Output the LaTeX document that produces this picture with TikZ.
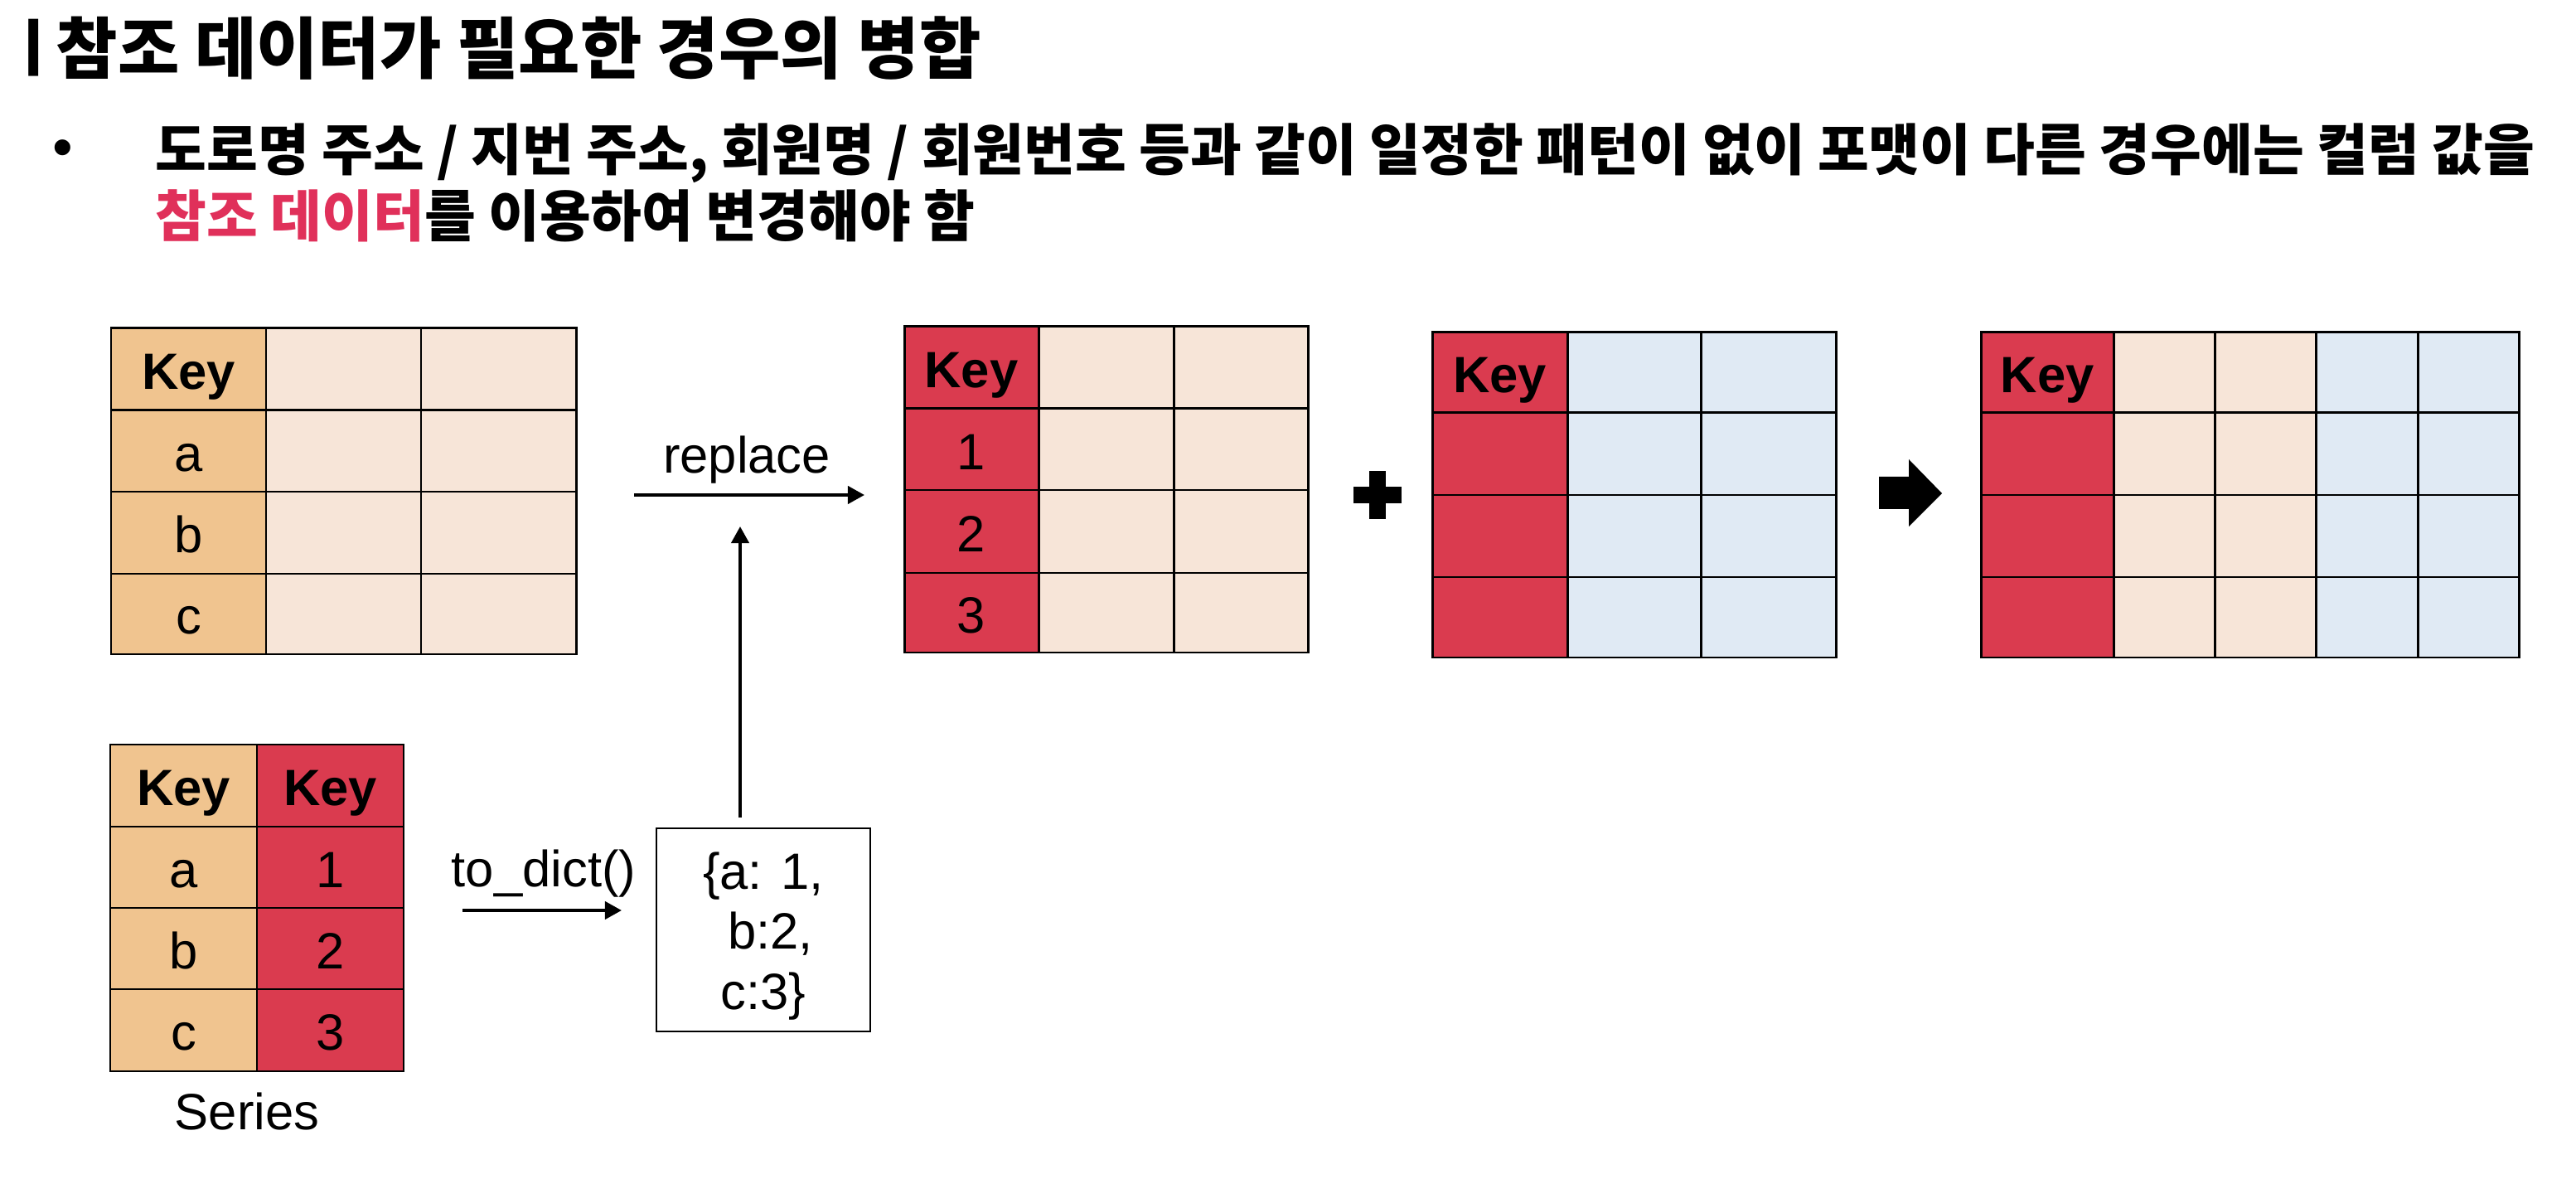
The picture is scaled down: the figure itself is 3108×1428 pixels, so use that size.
\documentclass[tikz,border=0pt]{standalone}
\usepackage{fontspec}
\setmainfont{Liberation Sans}
\newfontfamily\kr{Noto Sans CJK KR}
\usetikzlibrary{arrows.meta}
\definecolor{ktan}{HTML}{F0C48F}
\definecolor{kpeach}{HTML}{F7E5D8}
\definecolor{kred}{HTML}{DA3B4F}
\definecolor{kblue}{HTML}{E0EAF4}
\definecolor{kpink}{HTML}{E0305A}
\tikzset{
  cellbox/.style={draw=black, line width=0.85pt, inner sep=0pt, outer sep=0pt,
    text height=0.48cm, text depth=0pt, font=\fontsize{17.5}{21}\selectfont},
  arr/.style={line width=1.14pt, -{Triangle[length=0.2cm,width=0.21cm]}},
  lbl/.style={anchor=base, inner sep=0pt, font=\fontsize{17.5}{21}\selectfont},
  krtitle/.style={anchor=base west, inner sep=0pt, font=\kr\bfseries\fontsize{23}{28}\selectfont},
  krbody/.style={anchor=base west, inner sep=0pt, font=\kr\bfseries\fontsize{19.1}{23}\selectfont},
}
\newcommand\tcell[7]{\node[cellbox,fill=#6,minimum width={(#3-#2)*0.01cm},minimum height={(#5-#4)*0.01cm}] (#1) at ({(#2+#3)/2},{(#4+#5)/2}) {#7};}
\begin{document}
\begin{tikzpicture}[x=0.01cm,y=-0.01cm]
\useasboundingbox (0,0) rectangle (3108,1428);
% titles
\node[anchor=base, inner sep=0pt, font=\kr\bfseries\fontsize{21}{26}\selectfont] (bar) at (40,86) {ㅣ};
\node[krtitle] (title) at (67,89) {참조 데이터가 필요한 경우의 병합};
\node[inner sep=0pt, font=\fontsize{20}{22}\selectfont] (bul) at (76,185) {•};
\node[krbody] (line1) at (187,206) {도로명 주소 / 지번 주소, 회원명 / 회원번호 등과 같이 일정한 패턴이 없이 포맷이 다른 경우에는 컬럼 값을};
\node[krbody] (line2) at (187,286) {\textcolor{kpink}{참조 데이터}를 이용하여 변경해야 함};
% table A
\foreach \ya/\yb/\t [count=\i from 0] in {396/495/{\bfseries Key},495/593/a,593/692/b,692/789/c}{
  \tcell{A-\i-0}{134}{321}{\ya}{\yb}{ktan}{\t}
  \tcell{A-\i-1}{321}{508}{\ya}{\yb}{kpeach}{}
  \tcell{A-\i-2}{508}{695}{\ya}{\yb}{kpeach}{}
}
% table B
\foreach \ya/\yb/\t [count=\i from 0] in {394/493/{\bfseries Key},493/591/1,591/691/2,691/787/3}{
  \tcell{B-\i-0}{1091}{1253}{\ya}{\yb}{kred}{\t}
  \tcell{B-\i-1}{1253}{1416}{\ya}{\yb}{kpeach}{}
  \tcell{B-\i-2}{1416}{1578}{\ya}{\yb}{kpeach}{}
}
% table C
\foreach \ya/\yb/\t [count=\i from 0] in {401/498/{\bfseries Key},498/597/{},597/696/{},696/793/{}}{
  \tcell{C-\i-0}{1728}{1891}{\ya}{\yb}{kred}{\t}
  \tcell{C-\i-1}{1891}{2052}{\ya}{\yb}{kblue}{}
  \tcell{C-\i-2}{2052}{2215}{\ya}{\yb}{kblue}{}
}
% table D (result)
\foreach \ya/\yb/\t [count=\i from 0] in {401/498/{\bfseries Key},498/597/{},597/696/{},696/793/{}}{
  \tcell{D-\i-0}{2390}{2550}{\ya}{\yb}{kred}{\t}
  \tcell{D-\i-1}{2550}{2672}{\ya}{\yb}{kpeach}{}
  \tcell{D-\i-2}{2672}{2794}{\ya}{\yb}{kpeach}{}
  \tcell{D-\i-3}{2794}{2917}{\ya}{\yb}{kblue}{}
  \tcell{D-\i-4}{2917}{3039}{\ya}{\yb}{kblue}{}
}
% series
\foreach \ya/\yb/\s/\t [count=\i from 0] in {898/997/{\bfseries Key}/{\bfseries Key},997/1095/a/1,1095/1193/b/2,1193/1292/c/3}{
  \tcell{S-\i-0}{133}{310}{\ya}{\yb}{ktan}{\s}
  \tcell{S-\i-1}{310}{487}{\ya}{\yb}{kred}{\t}
}
\node[lbl] (series) at (298,1362) {Series};
% dict box
\node[draw, line width=0.57pt, minimum width=2.58cm, minimum height=2.45cm, inner sep=0pt, outer sep=0pt,
  align=center, font=\fontsize{17.5}{20.6}\selectfont, text height=1.91cm, text depth=0cm]
  (dict) at (921,1121.5) {\{a: 1,\\~b:2,\\c:3\}};
% arrows
\coordinate (rs) at (765,597);
\coordinate (re) at (1043,597);
\draw[arr] (rs) -- (re);
\node[lbl] (replace) at (901,571) {replace};
\coordinate (vtip) at (893,635);
\draw[arr, shorten <=0.13cm] (vtip |- dict.north) -- (vtip);
\coordinate (ts) at (558,1098);
\coordinate (te) at (750,1098);
\draw[arr] (ts) -- (te);
\node[lbl] (todict) at (656,1069) {to\_dict()};
% plus sign
\fill (1633,587) rectangle (1691,607);
\fill (1652,568) rectangle (1672,626);
% block arrow
\fill (2267,575) -- (2303,575) -- (2303,554) -- (2343,595) -- (2303,635) -- (2303,614) -- (2267,614) -- cycle;
\end{tikzpicture}
\end{document}
